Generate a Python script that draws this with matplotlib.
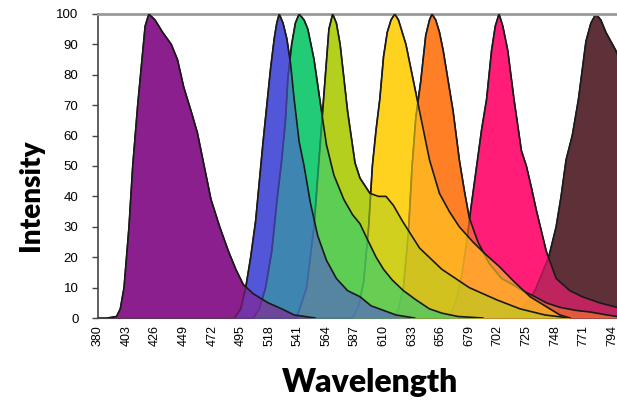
import numpy as np
import matplotlib
matplotlib.use("Agg")
from matplotlib import pyplot as plt

# emission spectra: (wavelength nm, intensity %)
purple_wl = [388, 395, 398, 401, 405, 408, 412, 415, 418, 421, 426, 432, 439, 444, 449, 455, 460, 466, 471, 478, 485, 491, 497, 505, 517, 528, 538, 555]
purple_int = [0, 0.5, 3, 10, 30, 50, 70, 83, 96, 100, 98, 94, 90, 85, 76, 68, 61, 49, 39, 30, 22, 16, 11, 8, 5, 3, 1, 0]

blue_wl = [490, 495, 499, 503, 507, 510, 513, 516, 519, 522, 524, 526, 529, 532, 535, 538, 542, 546, 551, 557, 564, 572, 581, 591, 600, 610, 620, 635]
blue_int = [0, 3, 10, 20, 32, 45, 58, 70, 82, 92, 97, 100, 97, 92, 84, 72, 58, 50, 38, 27, 19, 13, 9, 7, 4, 2.5, 1, 0]

green_wl = [505, 510, 515, 520, 524, 528, 531, 533, 536, 539, 542, 546, 549, 554, 560, 564, 570, 578, 585, 591, 598, 604, 610, 617, 626, 636, 647, 657, 670, 690]
green_int = [0, 3, 10, 22, 38, 52, 65, 79, 90, 97, 100, 98, 95, 85, 68, 57, 47, 39, 34, 31, 25, 20, 16, 12.5, 9, 6, 3, 1.6, 0.5, 0]

ygreen_wl = [540, 548, 554, 558, 563, 566, 569, 572, 575, 581, 587, 591, 599, 606, 612, 618, 625, 639, 657, 679, 701, 720, 740, 760]
ygreen_int = [0, 10, 30, 52, 79, 95, 100, 97, 90, 68, 51, 46, 41, 40, 40, 37, 32, 23, 16, 10, 6, 3, 1, 0]

yellow_wl = [585, 590, 594, 598, 601, 604, 607, 610, 613, 616, 619, 622, 625, 628, 633, 637, 642, 647, 655, 663, 671, 682, 692, 703, 715, 728, 740, 752, 760]
yellow_int = [0, 4, 12, 30, 50, 62, 72, 86, 94, 98, 100, 98, 94, 90, 80, 72, 62, 52, 41, 35, 30, 25, 21, 17, 12, 7, 4, 1, 0]

orange_wl = [618, 622, 626, 630, 633, 636, 640, 644, 647, 649, 652, 655, 658, 662, 666, 671, 675, 679, 686, 695, 705, 714, 722, 732, 741, 752, 765, 776, 790, 798]
orange_int = [0, 3, 10, 28, 50, 66, 78, 93, 98, 100, 98, 94, 88, 78, 68, 52, 42, 33, 25, 18, 13, 11, 9, 7, 5, 3.5, 2.5, 2, 1, 0.5]

pink_wl = [662, 668, 673, 677, 680, 685, 689, 693, 697, 700, 703, 706, 710, 715, 721, 725, 729, 733, 741, 749, 760, 770, 784, 798]
pink_int = [0, 5, 14, 25, 35, 50, 62, 72, 88, 96, 100, 96, 88, 72, 55, 50, 43, 35.5, 22, 13, 9, 7, 5, 3.5]

brown_wl = [705, 715, 722, 728, 733, 738, 743, 749, 753, 757, 762, 767, 773, 777, 781, 785, 789, 797, 805]
brown_int = [0, 1.5, 3.6, 6, 10, 15, 20, 30, 40, 52, 60, 72, 91, 97, 100, 98, 94, 88, 80]

spectra = [
    (purple_wl, purple_int, '#8c1f8e'),
    (blue_wl, blue_int, '#5256d8'),
    (green_wl, green_int, '#22cc77'),
    (ygreen_wl, ygreen_int, '#b5cf1f'),
    (yellow_wl, yellow_int, '#ffd21f'),
    (orange_wl, orange_int, '#ff7f27'),
    (pink_wl, pink_int, '#ff1d78'),
    (brown_wl, brown_int, '#5e3138'),
]

x_ticks = list(range(380, 795, 23))
y_ticks = list(range(0, 101, 10))

fig = plt.figure(figsize=(6.17, 4.03), dpi=100)
ax = fig.add_axes([0.1588, 0.2109, 0.8412, 0.7544])

# pass 1: solid colours, later dyes on top
for wl, inten, col in spectra:
    ax.fill_between(wl, 0, inten, color=col, lw=0, zorder=1)
    ax.plot(wl, inten, color='#1a1a1a', lw=1.1, zorder=1)

# pass 2: translucent, earlier dyes on top so overlaps blend
for i, (wl, inten, col) in enumerate(spectra[::-1]):
    z = 2 + i
    ax.fill_between(wl, 0, inten, color=col, alpha=0.6, lw=0, zorder=z)
    ax.plot(wl, inten, color='#1a1a1a', lw=1.2, zorder=z)

ax.set_xlim(380, 798)
ax.set_ylim(0, 100)
ax.set_xticks(x_ticks)
ax.set_xticklabels([str(t) for t in x_ticks], rotation=90, fontsize=9,
                   family='Liberation Sans')
ax.set_yticks(y_ticks)
ax.set_yticklabels([str(t) for t in y_ticks], fontsize=9.5, family='Liberation Sans')
ax.tick_params(axis='y', length=4, width=1, color='#444444', pad=10)
ax.tick_params(axis='x', length=0, pad=5)

ax.spines['right'].set_visible(False)
ax.spines['top'].set_color('#999999')
ax.spines['top'].set_linewidth(2)
ax.spines['left'].set_color('#444444')
ax.spines['left'].set_linewidth(1.2)
ax.spines['bottom'].set_color('#444444')
ax.spines['bottom'].set_linewidth(1.5)

fig.text(0.6, 0.05, 'Wavelength', ha='center', va='center', fontsize=23,
         family='Lato', weight='heavy')
fig.text(0.05, 0.515, 'Intensity', ha='center', va='center', fontsize=20,
         family='Lato', weight='heavy', rotation=90)

fig.savefig('out.png', dpi=100)
